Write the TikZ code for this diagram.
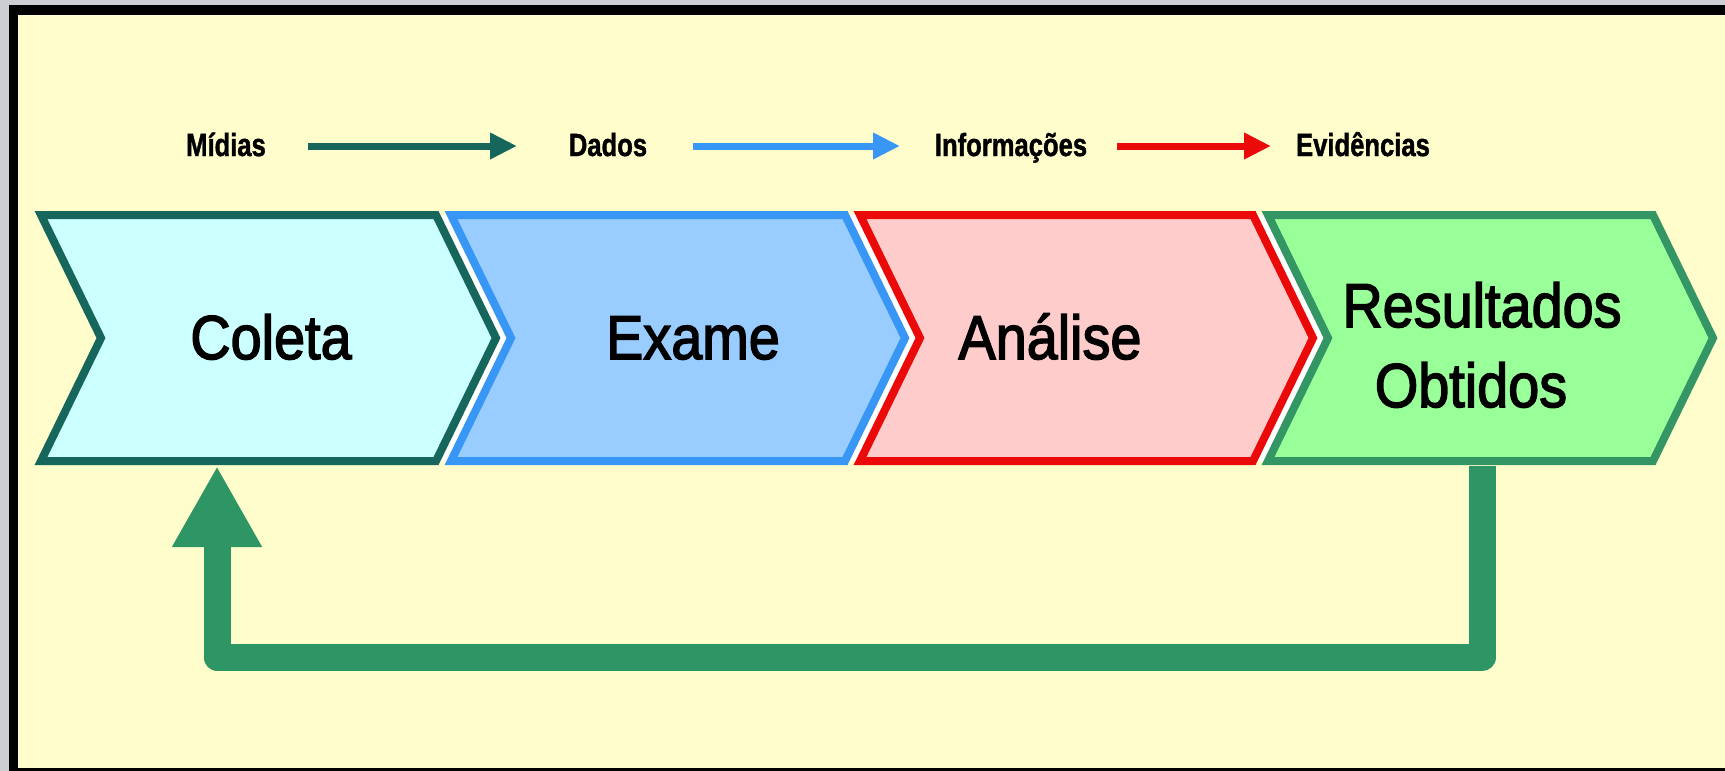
\documentclass[tikz,border=0pt]{standalone}
\usepackage{graphicx}
\usepackage{fontspec}
\setmainfont{Liberation Sans}
\newfontfamily\chevfont[FakeBold=2.5]{Liberation Sans}
\newfontfamily\topfont[FakeBold=1.5]{Liberation Sans Bold}
\usetikzlibrary{arrows.meta}
\definecolor{bgyellow}{RGB}{255,253,204}
\definecolor{framegray}{RGB}{205,205,212}
\definecolor{tealc}{RGB}{22,102,92}
\definecolor{colfill}{RGB}{204,255,255}
\definecolor{bluec}{RGB}{56,150,245}
\definecolor{exfill}{RGB}{153,204,255}
\definecolor{redc}{RGB}{235,10,10}
\definecolor{anfill}{RGB}{255,204,204}
\definecolor{greenc}{RGB}{51,150,100}
\definecolor{resfill}{RGB}{153,255,153}
\definecolor{loopc}{RGB}{45,150,100}
\newcommand\hsq[1]{\scalebox{0.8}[1]{#1}}
\newcommand\hsqb[1]{\scalebox{0.9}[1]{#1}}
\begin{document}
\begin{tikzpicture}[x=1pt,y=-1pt,
  toplabel/.style={anchor=base,inner sep=0pt,font=\topfont\fontsize{32}{38}\selectfont},
  chevlabel/.style={anchor=base,inner sep=0pt,font=\chevfont\fontsize{62}{74}\selectfont},
  toparrow/.style={line width=7pt,-{Triangle[length=27pt,width=25pt]}},
  chevbox/.style={line width=8pt,line join=miter},
  gapfill/.style={fill=white},
  loop/.style={draw=loopc,line width=27pt,line join=round,-{Triangle[length=81pt,width=84pt]}}]
\useasboundingbox (0,0) rectangle (1725,771);
% frame
\fill[framegray] (0,0) rectangle (1725,771);
\fill[black] (9,5) rectangle (1725,771);
\fill[bgyellow] (18,15) rectangle (1725,768);

% top row
\node[toplabel] (midias) at (226,156) {\hsq{Mídias}};
\node[toplabel] (dados) at (608,156) {\hsq{Dados}};
\node[toplabel] (info) at (1011,156) {\hsq{Informações}};
\node[toplabel] (evid) at (1363,156) {\hsq{Evidências}};
\coordinate (a1s) at (308,146); \coordinate (a1e) at (517,146);
\coordinate (a2s) at (693,146); \coordinate (a2e) at (900,146);
\coordinate (a3s) at (1117,146); \coordinate (a3e) at (1271,146);
\draw[toparrow,tealc] (a1s) -- (a1e);
\draw[toparrow,bluec] (a2s) -- (a2e);
\draw[toparrow,redc] (a3s) -- (a3e);

% white gaps between chevrons
\fill[gapfill] (436,215) -- (496,338) -- (436,461) -- (451,461) -- (511,338) -- (451,215) -- cycle;
\fill[gapfill] (845,215) -- (905,338) -- (845,461) -- (860,461) -- (920,338) -- (860,215) -- cycle;
\fill[gapfill] (1253,215) -- (1313,338) -- (1253,461) -- (1268,461) -- (1328,338) -- (1268,215) -- cycle;

% chevrons
\draw[chevbox,draw=tealc,fill=colfill] (41,215) -- (436,215) -- (496,338) -- (436,461) -- (41,461) -- (101,338) -- cycle;
\draw[chevbox,draw=bluec,fill=exfill] (451,215) -- (845,215) -- (905,338) -- (845,461) -- (451,461) -- (511,338) -- cycle;
\draw[chevbox,draw=redc,fill=anfill] (860,215) -- (1253,215) -- (1313,338) -- (1253,461) -- (860,461) -- (920,338) -- cycle;
\draw[chevbox,draw=greenc,fill=resfill] (1268,215) -- (1653,215) -- (1713,338) -- (1653,461) -- (1268,461) -- (1328,338) -- cycle;

\node[chevlabel] (coleta) at (271,359) {\hsqb{Coleta}};
\node[chevlabel] (exame) at (693,359) {\hsqb{Exame}};
\node[chevlabel] (analise) at (1050,359) {\hsqb{Análise}};
\node[chevlabel] (res1) at (1482,327) {\hsqb{Resultados}};
\node[chevlabel] (res2) at (1471,407) {\hsqb{Obtidos}};

% feedback loop
\coordinate (rbot) at (1482,466);
\coordinate (cbot) at (217,466);
\draw[loop] (rbot) |- (217,657.5) -- (cbot);
\end{tikzpicture}
\end{document}
